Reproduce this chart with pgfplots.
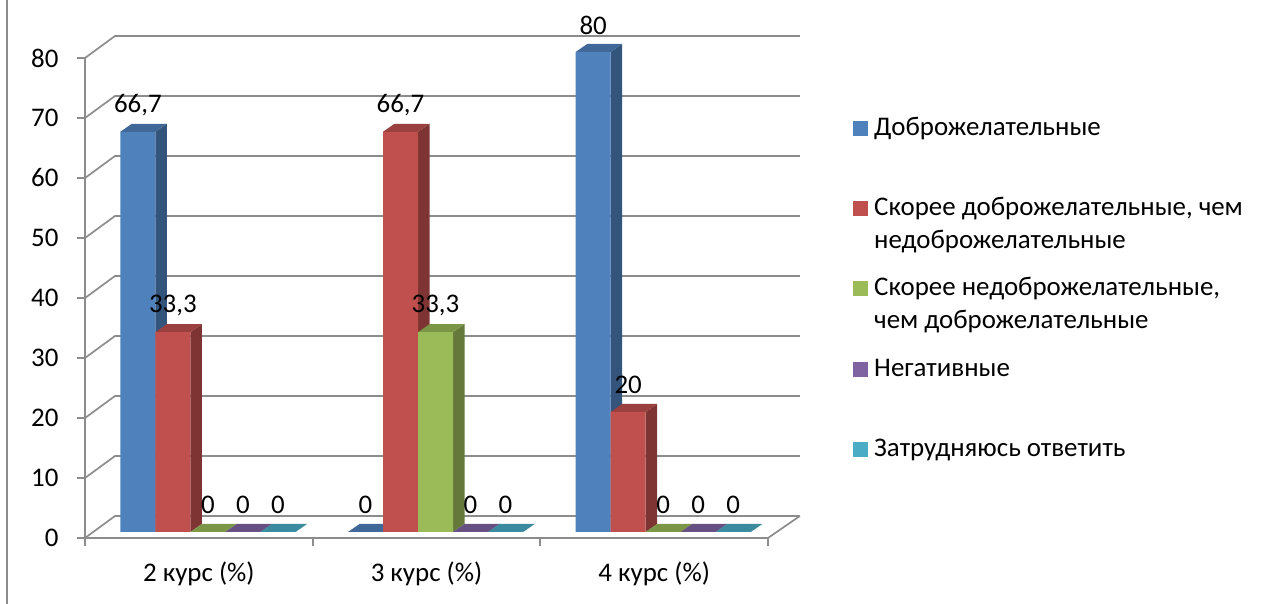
\documentclass[border=0pt]{standalone}
\usepackage{fontspec}
\setmainfont{Carlito}
\usepackage{pgfplots}
\pgfplotsset{compat=1.18}

\definecolor{serA}{HTML}{4F81BD}
\definecolor{serB}{HTML}{C0504D}
\definecolor{serC}{HTML}{9BBB59}
\definecolor{serD}{HTML}{8064A2}
\definecolor{serE}{HTML}{4BACC6}
\definecolor{axisgray}{HTML}{8C8C8C}

\newcommand{\chartfont}{\fontsize{27}{30}\selectfont}

% picture px -> axis units: x 227.67 px per category, y 6 px per unit
\newcommand{\depthfaces}[4]{%
  \pgfmathsetmacro{\xl}{#3+(#2-17.5)/227.67}%
  \pgfmathsetmacro{\xr}{#3+(#2+17.5)/227.67}%
  \pgfmathsetmacro{\xlb}{\xl+11.5/227.67}%
  \pgfmathsetmacro{\xrb}{\xr+11.5/227.67}%
  \pgfmathsetmacro{\yf}{#4+1}%
  \pgfmathsetmacro{\yb}{#4+1+8/6}%
  \pgfmathsetmacro{\yz}{1+8/6}%
  \edef\temp{\noexpand\addplot[forget plot,draw=none,fill=#1!65!black]
    coordinates {(\xr,1)(\xrb,\yz)(\xrb,\yb)(\xr,\yf)} --cycle;
    \noexpand\addplot[forget plot,draw=none,fill=#1!80!black]
    coordinates {(\xl,\yf)(\xr,\yf)(\xrb,\yb)(\xlb,\yb)} --cycle;}%
  \temp
}
\newcommand{\barseries}[6]{%
  \depthfaces{#1}{#2}{0.5}{#3}%
  \depthfaces{#1}{#2}{1.5}{#4}%
  \depthfaces{#1}{#2}{2.5}{#5}%
  \addplot[ybar,bar width=35bp,bar shift=#2bp,yshift=6bp,draw=none,fill=#1,
    nodes near coords={\pgfmathprintnumber[use comma]{\pgfplotspointmeta}},
    every node near coord/.append style={font=\chartfont,anchor=center,xshift=#2bp,yshift=27bp,text=black},
    legend image code/.code={\path[fill=none,draw=none] (0bp,-7.5bp) rectangle (15bp,7.5bp);
      \fill[#1,overlay] (0bp,13.5bp) rectangle (15bp,28.5bp);}]
    coordinates {(0.5,#3)(1.5,#4)(2.5,#5)};
  \addlegendentry{#6}
}
\newcommand{\legrow}[1]{\rule[-60bp]{0pt}{80.3bp}\hspace*{6bp}\parbox[t]{380bp}{\baselineskip=32.5bp #1}}

\begin{document}
\begin{tikzpicture}[x=1bp,y=1bp]
\useasboundingbox (0,0) rectangle (1267,604);
\draw[axisgray,line width=1.7bp] (7,0) -- (7,604);
\begin{axis}[
    at={(85bp,66bp)},
    anchor=south west,
    scale only axis,
    width=683bp,
    height=480bp,
    xmin=0, xmax=3,
    ymin=0, ymax=80,
    clip=false,
    axis x line=bottom,
    axis y line=left,
    axis line style={-,axisgray,line width=1.7bp},
    xtick={0,1,2,3},
    xticklabels={2 курс (\%),3 курс (\%),4 курс (\%)},
    x tick label as interval=true,
    ytick={0,10,...,80},
    tick align=outside,
    major tick length=8bp,
    tick style={axisgray,line width=1.7bp},
    x tick label style={yshift=-12bp},
    y tick label style={xshift=-15bp},
    tick label style={font=\chartfont},
    /pgf/number format/assume math mode=true,
    legend cell align=left,
    legend style={at={(1.1245,0.8817)},anchor=north west,draw=none,fill=none,inner sep=0pt,
      font=\chartfont,row sep=0pt,nodes={text depth={},inner sep=0pt}},
]
\pgfplotsinvokeforeach{0,10,...,80}{
  \pgfmathsetmacro{\yb}{#1+22/6}
  \edef\temp{\noexpand\addplot[forget plot,axisgray,line width=1.7bp]
    coordinates {(0,#1)(0.1318,\yb)(3.14,\yb)};}
  \temp
}
\addplot[forget plot,axisgray,line width=1.7bp] coordinates {(3,0)(3.14,3.67)};

\barseries{serA}{-61}{66.7}{0}{80}{\legrow{Доброжелательные}}
\barseries{serB}{-26}{33.3}{66.7}{20}{\legrow{Скорее доброжелательные, чем\\недоброжелательные}}
\barseries{serC}{9}{0}{33.3}{0}{\legrow{Скорее недоброжелательные,\\чем доброжелательные}}
\barseries{serD}{44}{0}{0}{0}{\legrow{Негативные}}
\barseries{serE}{79}{0}{0}{0}{\legrow{Затрудняюсь ответить}}
\end{axis}
\end{tikzpicture}
\end{document}
